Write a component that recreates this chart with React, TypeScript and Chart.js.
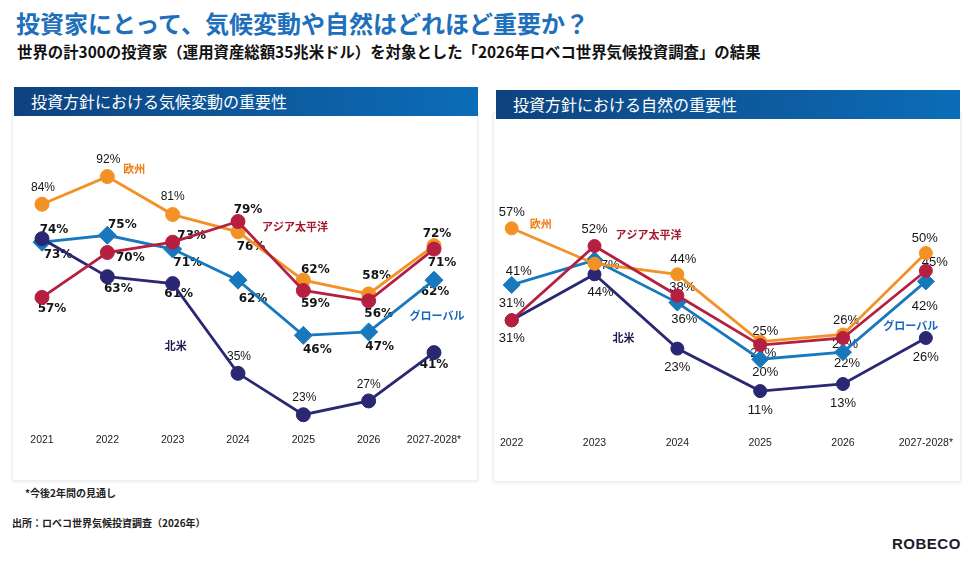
import React, { useEffect, useRef } from "react";
import { Chart, registerables } from "chart.js";

Chart.register(...registerables);

// ---------- data ----------
const climateYears = ["2021", "2022", "2023", "2024", "2025", "2026", "2027-2028*"];
const climateEurope = [84, 92, 81, 76, 62, 58, 72];
const climateAsia = [57, 70, 73, 79, 59, 56, 71];
const climateGlobal = [73, 75, 71, 62, 46, 47, 62];
const climateNA = [74, 63, 61, 35, 23, 27, 41];

const natureYears = ["2022", "2023", "2024", "2025", "2026", "2027-2028*"];
const natureEurope = [57, 47, 44, 25, 27, 50];
const natureAsia = [31, 52, 38, 24, 26, 45];
const natureGlobal = [41, 48, 36, 20, 22, 42];
const natureNA = [31, 44, 23, 11, 13, 26];

const nameEurope = "欧州";
const nameAsia = "アジア太平洋";
const nameGlobal = "グローバル";
const nameNA = "北米";

const titleText = "投資家にとって、気候変動や自然はどれほど重要か？";
const subtitleText =
  "世界の計300の投資家（運用資産総額35兆米ドル）を対象とした「2026年ロベコ世界気候投資調査」の結果";
const leftHeader = "投資方針における気候変動の重要性";
const rightHeader = "投資方針における自然の重要性";
const footnoteText = "*今後2年間の見通し";
const sourceText = "出所：ロベコ世界気候投資調査（2026年）";

// ---------- styles ----------
const C_EU = "#F39224";
const C_AS = "#B51F40";
const C_GL = "#1878BE";
const C_NA = "#2A2773";
const CJK = '"Noto Sans CJK JP", "Noto Sans", sans-serif';

// label offsets [dx, dy, style] per dataset order: Asia, Europe, NA, Global
type Off = [number, number, string?] | null;

const leftOffsets: Off[][] = [
  [[10, 11], [23, 5], [19, -6], [10, -12], [12, 13], [10, 13], [8, 14]],
  [[1, -17, "s"], [1, -17, "s"], [0, -18, "s"], [13, 15], [12, -10], [8, -18], [3, -12]],
  [[12, -9], [11, 12], [6, 10], [1, -17, "s"], [1, -17, "s"], [0, -16, "s"], [0, 12]],
  [[16, 13], [15, -10], [15, 14], [15, 19], [14, 15], [11, 15], [1, 12]],
];

const rightOffsets: Off[][] = [
  [[0, -17], [0, -17], [5, -8], [3, 8], [3, -18], [9, -8]],
  [[0, -16], [12, 2], [6, -15], [5, -10], [2, 10], [-1, -15]],
  [[0, 18], [6, 18], [0, 19], [0, 19], [0, 19], [0, 19]],
  [[7, -14], null, [7, 17], [5, 13], [4, 11], [-1, 25]],
];

type NameSpec = { ds: number; i: number; dx: number; dy: number; text: string; color: string };

const leftNames: NameSpec[] = [
  { ds: 1, i: 1, dx: 27, dy: -8, text: nameEurope, color: "#F07C14" },
  { ds: 0, i: 3, dx: 57, dy: 5, text: nameAsia, color: "#A3162A" },
  { ds: 3, i: 6, dx: 3, dy: 36, text: nameGlobal, color: "#1766B8" },
  { ds: 2, i: 2, dx: 3, dy: 62, text: nameNA, color: "#1E1D4F" },
];

const rightNames: NameSpec[] = [
  { ds: 1, i: 0, dx: 29, dy: -4, text: nameEurope, color: "#F07C14" },
  { ds: 0, i: 1, dx: 54, dy: -11, text: nameAsia, color: "#A3162A" },
  { ds: 2, i: 1, dx: 29, dy: 64, text: nameNA, color: "#1E1D4F" },
  { ds: 3, i: 5, dx: -15, dy: 44, text: nameGlobal, color: "#1766B8" },
];

type PanelCfg = {
  labels: string[];
  series: number[][]; // Asia, Europe, NA, Global
  offsets: Off[][];
  names: NameSpec[];
  font: string;
  smallFont: string;
  min: number;
  max: number;
  padding: { left: number; right: number; top: number; bottom: number };
  tickPadding: number;
  radius: number;
  diamond: number;
};

function makeLabelPlugin(cfg: PanelCfg) {
  return {
    id: "pointLabels",
    beforeDatasetsDraw(chart: any) {
      const ctx = chart.ctx;
      ctx.save();
      ctx.textAlign = "center";
      ctx.textBaseline = "middle";
      chart.data.datasets.forEach((ds: any, di: number) => {
        const meta = chart.getDatasetMeta(di);
        meta.data.forEach((el: any, i: number) => {
          const o = cfg.offsets[di][i];
          if (!o) return;
          ctx.font = o[2] === "s" ? cfg.smallFont : cfg.font;
          ctx.fillStyle = "#151515";
          ctx.fillText(ds.data[i] + "%", el.x + o[0], el.y + o[1]);
        });
      });
      cfg.names.forEach((n) => {
        const el = chart.getDatasetMeta(n.ds).data[n.i];
        ctx.font = `bold 11px ${CJK}`;
        ctx.fillStyle = n.color;
        ctx.fillText(n.text, el.x + n.dx, el.y + n.dy);
      });
      ctx.restore();
    },
  };
}

function buildChart(canvas: HTMLCanvasElement, cfg: PanelCfg) {
  const colors = [C_AS, C_EU, C_NA, C_GL];
  const datasets = cfg.series.map((d, k) => ({
    data: d,
    borderColor: colors[k],
    backgroundColor: colors[k],
    pointBackgroundColor: colors[k],
    pointBorderColor: colors[k],
    borderWidth: 2.8,
    pointRadius: k === 3 ? cfg.diamond : cfg.radius,
    pointStyle: k === 3 ? "rectRot" : "circle",
    pointBorderWidth: 1,
    tension: 0,
    clip: false as any,
  }));
  return new Chart(canvas, {
    type: "line",
    data: { labels: cfg.labels, datasets: datasets as any },
    options: {
      animation: false,
      responsive: false,
      maintainAspectRatio: false,
      layout: { padding: cfg.padding },
      plugins: { legend: { display: false }, tooltip: { enabled: false } },
      scales: {
        x: {
          grid: { display: false, drawTicks: false },
          border: { display: false },
          ticks: {
            color: "#222",
            font: { family: '"Liberation Sans", Arial, sans-serif', size: 10.5 },
            padding: cfg.tickPadding,
            maxRotation: 0,
            autoSkip: false,
          },
          afterFit: (s: any) => {
            s.height = 20;
          },
        },
        y: { display: false, min: cfg.min, max: cfg.max },
      },
    },
    plugins: [makeLabelPlugin(cfg) as any],
  });
}

const headerStyle = (left: number, top: number, width: number): React.CSSProperties => ({
  position: "absolute",
  left,
  top,
  width,
  height: 29,
  background: "linear-gradient(to right, #0e427f 0%, #0d5a9e 55%, #0b6db8 100%)",
  color: "#fff",
  fontFamily: CJK,
  fontSize: 16,
  lineHeight: "29px",
  boxSizing: "border-box",
  paddingLeft: 17,
});

const panelStyle = (left: number, top: number, width: number, height: number): React.CSSProperties => ({
  position: "absolute",
  left,
  top,
  width,
  height,
  background: "#fff",
  border: "1px solid #eceef0",
  boxShadow: "0 1px 3px rgba(0,0,0,0.08)",
  boxSizing: "border-box",
});

export default function App() {
  const leftRef = useRef<HTMLCanvasElement>(null);
  const rightRef = useRef<HTMLCanvasElement>(null);

  useEffect(() => {
    const c1 = buildChart(leftRef.current!, {
      labels: climateYears,
      series: [climateAsia, climateEurope, climateNA, climateGlobal],
      offsets: leftOffsets,
      names: leftNames,
      font: 'bold 12px "DejaVu Sans", Verdana, sans-serif',
      smallFont: '12px "Liberation Sans Narrow", "Liberation Sans", Arial, sans-serif',
      min: 18,
      max: 100,
      padding: { left: 32, right: 44, top: 29, bottom: 8 },
      tickPadding: 2,
      radius: 7,
      diamond: 9,
    });
    const c2 = buildChart(rightRef.current!, {
      labels: natureYears,
      series: [natureAsia, natureEurope, natureNA, natureGlobal],
      offsets: rightOffsets,
      names: rightNames,
      font: '13px "Liberation Sans Narrow", "Liberation Sans", Arial, sans-serif',
      smallFont: '13px "Liberation Sans Narrow", "Liberation Sans", Arial, sans-serif',
      min: 0,
      max: 65,
      padding: { left: 17, right: 28, top: 75, bottom: 15 },
      tickPadding: 7,
      radius: 6.5,
      diamond: 8.5,
    });
    return () => {
      c1.destroy();
      c2.destroy();
    };
  }, []);

  return (
    <div
      style={{
        position: "absolute",
        left: 0,
        top: 0,
        width: 974,
        height: 563,
        background: "#fff",
        overflow: "hidden",
        fontFamily: CJK,
      }}
    >
      <div
        style={{
          position: "absolute",
          left: 16,
          top: 6,
          fontSize: 24,
          fontWeight: 700,
          color: "#1e6fbc",
          whiteSpace: "nowrap",
          lineHeight: "34px",
        }}
      >
        {titleText}
      </div>
      <div
        style={{
          position: "absolute",
          left: 17,
          top: 40,
          fontSize: 15.4,
          fontWeight: 700,
          color: "#111",
          whiteSpace: "nowrap",
          lineHeight: "22px",
        }}
      >
        {subtitleText}
      </div>

      <div style={panelStyle(12, 110, 466, 371)} />
      <div style={panelStyle(493, 112, 468, 370)} />

      <div style={headerStyle(14, 87, 464)}>{leftHeader}</div>
      <div style={headerStyle(496, 90, 464)}>{rightHeader}</div>

      <canvas
        ref={leftRef}
        width={468}
        height={340}
        style={{ position: "absolute", left: 10, top: 120, width: 468, height: 340 }}
      />
      <canvas
        ref={rightRef}
        width={467}
        height={340}
        style={{ position: "absolute", left: 493, top: 125, width: 467, height: 340 }}
      />

      <div
        style={{
          position: "absolute",
          left: 25,
          top: 485,
          fontSize: 10,
          fontWeight: 700,
          color: "#222",
          whiteSpace: "nowrap",
        }}
      >
        {footnoteText}
      </div>
      <div
        style={{
          position: "absolute",
          left: 12,
          top: 515,
          fontSize: 10,
          fontWeight: 700,
          color: "#222",
          whiteSpace: "nowrap",
        }}
      >
        {sourceText}
      </div>
      <div
        style={{
          position: "absolute",
          left: 892,
          top: 535,
          fontFamily: '"Liberation Sans", Arial, sans-serif',
          fontSize: 15,
          fontWeight: 700,
          color: "#1b1b2b",
          letterSpacing: 0.5,
          whiteSpace: "nowrap",
        }}
      >
        ROBECO
      </div>
    </div>
  );
}
